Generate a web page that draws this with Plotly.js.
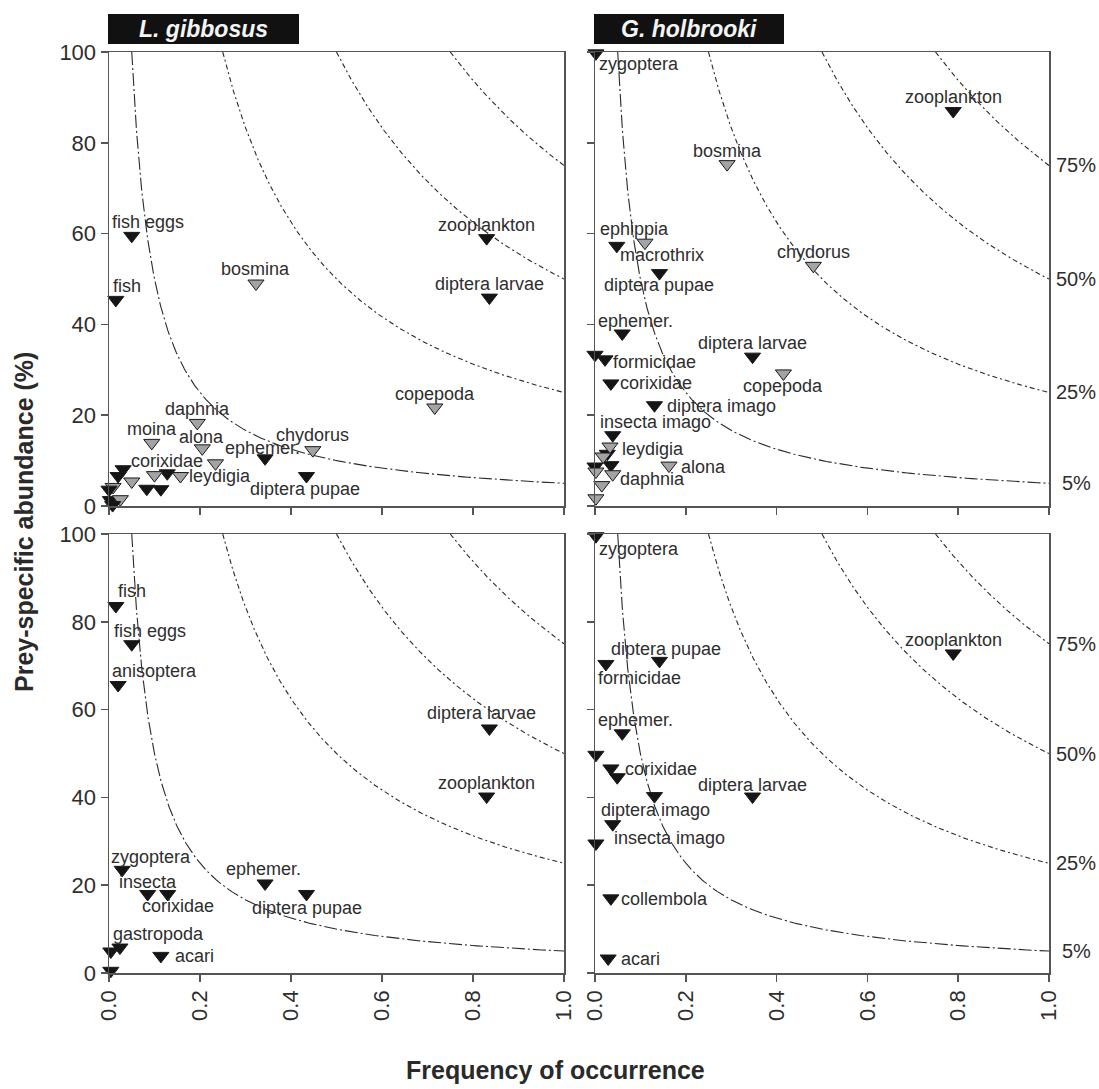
<!DOCTYPE html>
<html><head><meta charset="utf-8">
<script src="https://cdn.plot.ly/plotly-3.0.1.min.js"></script>
<style>html,body{margin:0;padding:0;background:#fff}</style>
</head><body><div id="chart" style="width:1099px;height:1089px"></div>
<script>
// ---------- DATA ----------
// Panel 1: L. gibbosus (upper)
const p1Prey  = ['fish eggs','fish','bosmina','zooplankton','diptera larvae','copepoda','daphnia','moina','alona','chydorus','ephemer.','corixidae','leydigia','diptera pupae','','','','','','','','','','','',''];
const p1Freq  = [0.05,0.015,0.323,0.83,0.836,0.716,0.194,0.094,0.205,0.448,0.343,0.128,0.157,0.434,0.234,0.10,0.031,0.020,0.05,0.009,0.083,0.114,0.003,0.025,0.008,0.0];
const p1Abund = [59.5,45.4,49.0,59.0,45.9,21.7,18.3,13.9,12.7,12.3,10.5,7.2,6.6,6.6,9.4,6.8,8.1,6.6,5.4,4.2,3.8,3.7,1.3,1.5,0.2,3.6];
const p1Group = ['o','o','z','o','o','z','z','z','z','z','o','o','z','o','z','z','o','o','z','z','o','o','o','z','o','o'];

// Panel 2: G. holbrooki (upper)
const p2Prey  = ['zygoptera','zooplankton','bosmina','ephippia','macrothrix','diptera pupae','chydorus','ephemer.','','formicidae','diptera larvae','copepoda','corixidae','diptera imago','insecta imago','','','','','leydigia','','daphnia','','','alona'];
const p2Freq  = [0.002,0.789,0.291,0.048,0.11,0.142,0.481,0.060,0.0,0.022,0.347,0.415,0.035,0.131,0.039,0.027,0.0,0.035,0.018,0.033,0.002,0.039,0.015,0.002,0.163];
const p2Abund = [99.7,87.0,75.3,57.3,58.0,51.3,52.9,38.0,33.3,32.3,32.9,29.2,27.0,22.2,15.6,11.5,8.7,9.0,10.9,13.1,7.6,7.0,4.6,1.7,8.9];
const p2Group = ['o','o','z','o','z','o','z','o','o','o','o','z','o','o','o','o','o','o','z','z','z','z','z','z','z'];

// Panel 3: L. gibbosus (lower)
const p3Prey  = ['fish','fish eggs','anisoptera','diptera larvae','zooplankton','zygoptera','insecta','corixidae','ephemer.','diptera pupae','gastropoda','','acari',''];
const p3Freq  = [0.015,0.05,0.02,0.836,0.83,0.029,0.085,0.129,0.343,0.434,0.024,0.004,0.114,0.004];
const p3Abund = [83.6,74.9,65.6,55.7,40.2,23.5,18.0,18.0,20.4,18.0,5.8,4.9,3.9,0.5];
const p3Group = ['o','o','o','o','o','o','o','o','o','o','o','o','o','o'];

// Panel 4: G. holbrooki (lower)
const p4Prey  = ['zygoptera','zooplankton','diptera pupae','formicidae','ephemer.','','corixidae','','diptera imago','diptera larvae','insecta imago','','collembola','acari'];
const p4Freq  = [0.002,0.789,0.142,0.024,0.06,0.002,0.035,0.049,0.131,0.347,0.039,0.002,0.035,0.029];
const p4Abund = [99.5,72.8,71.1,70.4,54.6,49.7,46.6,44.6,40.3,40.2,33.9,29.5,17.0,3.3];
const p4Group = ['o','o','o','o','o','o','o','o','o','o','o','o','o','o'];

// isolines of importance (frequency x abundance = level)
const isoLevels = [5, 25, 50, 75];
const isoLabels = ['5%', '25%', '50%', '75%'];
const panelTitles = ['L. gibbosus', 'G. holbrooki'];
const yTickVals = [0, 20, 40, 60, 80, 100];
const xTickVals = [0, 0.2, 0.4, 0.6, 0.8, 1.0];

// ---------- LABEL OFFSETS (pixels, relative to marker) ----------
const p1Dx = [16,11,0,0,0,0,0,0,-1,0,-3,0,40,-1];
const p1Dy = [-14,-14,-15,-13,-14,-13,-14,-14,-11,-15,-10,-12,0,13];
const p2Dx = [43,0,0,18,17,0,0,13,0,50,0,0,45,67,43,0,0,0,0,43,0,40,0,0,34];
const p2Dy = [11,-14,-13,-17,12,12,-14,-12,0,3,-14,13,0,1,-13,0,0,0,0,2,0,5,0,0,1];
const p3Dx = [16,18,36,-8,0,29,0,10,-2,1,39,0,34,0];
const p3Dy = [-15,-13,-14,-15,-14,-13,-12,12,-14,14,-14,0,0,0];
const p4Dx = [43,0,7,34,13,0,50,0,1,0,57,0,54,32];
const p4Dy = [13,-13,-12,14,-13,0,1,0,14,-12,14,0,1,0];

// ---------- BUILD ----------
const FONT = 'Arial, "Liberation Sans", sans-serif';
const panels = [
  {prey:p1Prey, f:p1Freq, a:p1Abund, g:p1Group, dx:p1Dx, dy:p1Dy, xa:'x',  ya:'y'},
  {prey:p2Prey, f:p2Freq, a:p2Abund, g:p2Group, dx:p2Dx, dy:p2Dy, xa:'x2', ya:'y2'},
  {prey:p3Prey, f:p3Freq, a:p3Abund, g:p3Group, dx:p3Dx, dy:p3Dy, xa:'x3', ya:'y3'},
  {prey:p4Prey, f:p4Freq, a:p4Abund, g:p4Group, dx:p4Dx, dy:p4Dy, xa:'x4', ya:'y4'}
];

const traces = [];
const annotations = [];

panels.forEach(function(p){
  isoLevels.forEach(function(lvl, k){
    const xs = [], ys = [];
    const x0 = lvl / 100;
    const n = 240;
    for (let i = 0; i <= n; i++) {
      const xv = x0 * Math.pow(1 / x0, i / n);
      xs.push(xv); ys.push(lvl / xv);
    }
    traces.push({
      x: xs, y: ys, xaxis: p.xa, yaxis: p.ya, mode: 'lines', hoverinfo: 'skip',
      line: {color: '#2a2a2a', width: 1.1, dash: k === 0 ? '13px,3px,2px,3px' : '5px,3px,2px,3px'},
      showlegend: false
    });
  });
  traces.push({
    x: p.f, y: p.a, xaxis: p.xa, yaxis: p.ya, mode: 'markers', cliponaxis: false,
    marker: {
      symbol: 'triangle-down', size: 14,
      color: p.g.map(function(v){ return v === 'z' ? '#a3a3a3' : '#151515'; }),
      line: {color: '#1a1a1a', width: 1}
    },
    showlegend: false, hoverinfo: 'text', text: p.prey
  });
  p.prey.forEach(function(name, i){
    if (!name) return;
    annotations.push({
      x: p.f[i], y: p.a[i], xref: p.xa, yref: p.ya, text: name, showarrow: false,
      xanchor: 'center', yanchor: 'middle',
      xshift: p.dx[i], yshift: -p.dy[i],
      font: {family: FONT, size: 18, color: '#2e2e2e'}
    });
  });
});

// isoline percent labels to the right of the right panels
['y2', 'y4'].forEach(function(ya){
  isoLevels.forEach(function(lvl, k){
    annotations.push({
      x: 1076 / 1099, xref: 'paper', y: lvl, yref: ya, text: isoLabels[k], showarrow: false,
      xanchor: 'center', yanchor: 'middle', font: {family: FONT, size: 20, color: '#2e2e2e'}
    });
  });
});

// panel title boxes
const W = 1099, H = 1089;
const boxes = [[108, 299], [594, 784]];
const shapes = [];
boxes.forEach(function(b, i){
  shapes.push({type: 'rect', xref: 'paper', yref: 'paper', x0: b[0] / W, x1: b[1] / W, y0: 1 - 44 / H, y1: 1 - 14 / H,
    fillcolor: '#111', line: {width: 0}});
  annotations.push({x: (b[0] + b[1]) / 2 / W, y: 1 - 29 / H, xref: 'paper', yref: 'paper', showarrow: false,
    text: panelTitles[i], xanchor: 'center', yanchor: 'middle',
    font: {family: FONT, size: 23, color: '#f4f4f4', weight: 'bold', style: 'italic'}});
});

// axis titles
annotations.push({x: 555 / W, y: 1 - 1070 / H, xref: 'paper', yref: 'paper', showarrow: false,
  text: 'Frequency of occurrence', xanchor: 'center', yanchor: 'middle',
  font: {family: FONT, size: 25, color: '#2a2a2a', weight: 'bold'}});
annotations.push({x: 24 / W, y: 1 - 522 / H, xref: 'paper', yref: 'paper', showarrow: false,
  text: 'Prey-specific abundance (%)', textangle: -90, xanchor: 'center', yanchor: 'middle',
  font: {family: FONT, size: 25, color: '#2a2a2a', weight: 'bold'}});

function xAxis(domain, anchor, labels){
  return {domain: domain, anchor: anchor, range: [0, 1], tickvals: xTickVals, tickformat: '.1f',
    showticklabels: labels, tickangle: -90, ticks: 'outside', ticklen: 7, tickwidth: 1.5, tickcolor: '#555',
    showline: true, linecolor: '#555', linewidth: 1.5, mirror: true, showgrid: false, zeroline: false,
    tickfont: {family: FONT, size: 22, color: '#2e2e2e'}, fixedrange: true};
}
function yAxis(domain, anchor, labels){
  return {domain: domain, anchor: anchor, range: [0, 100], tickvals: yTickVals,
    showticklabels: labels, ticks: 'outside', ticklen: 7, tickwidth: 1.5, tickcolor: '#555',
    showline: true, linecolor: '#555', linewidth: 1.5, mirror: true, showgrid: false, zeroline: false,
    tickfont: {family: FONT, size: 22, color: '#2e2e2e'}, fixedrange: true};
}
const xL = [109 / W, 564 / W], xR = [595 / W, 1049 / W];
const yT = [1 - 506 / H, 1 - 52 / H], yB = [1 - 973 / H, 1 - 534 / H];

const layout = {
  width: W, height: H, margin: {l: 0, r: 0, t: 0, b: 0},
  paper_bgcolor: '#fff', plot_bgcolor: 'rgba(0,0,0,0)', showlegend: false,
  font: {family: FONT},
  xaxis:  xAxis(xL, 'y',  false), yaxis:  yAxis(yT, 'x',  true),
  xaxis2: xAxis(xR, 'y2', false), yaxis2: yAxis(yT, 'x2', false),
  xaxis3: xAxis(xL, 'y3', true),  yaxis3: yAxis(yB, 'x3', true),
  xaxis4: xAxis(xR, 'y4', true),  yaxis4: yAxis(yB, 'x4', false),
  annotations: annotations, shapes: shapes
};

Plotly.newPlot('chart', traces, layout, {displayModeBar: false, staticPlot: true});
</script></body></html>
